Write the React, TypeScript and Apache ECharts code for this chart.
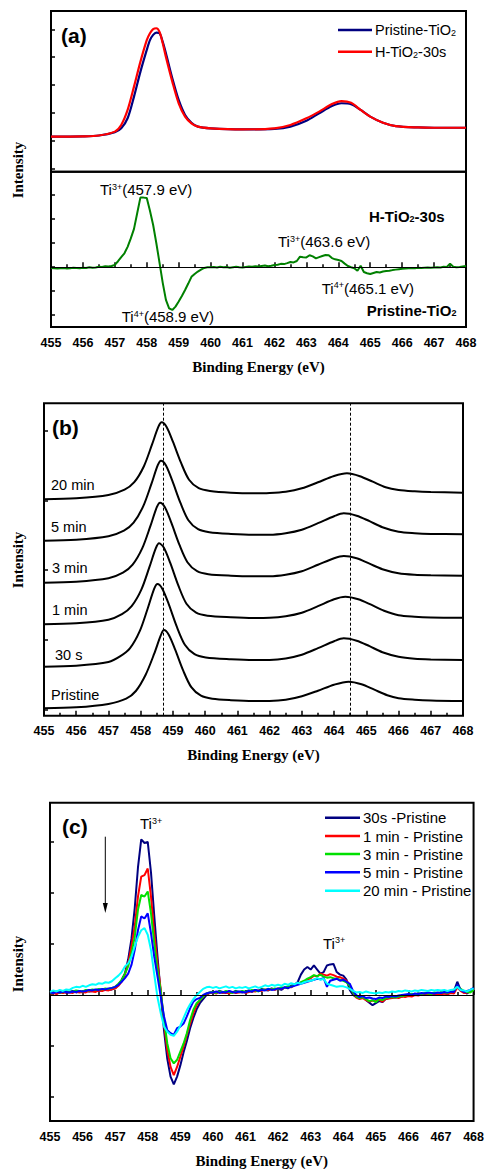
import React, { useEffect, useRef } from "react";
import * as echarts from "echarts";

const SANS = '"Liberation Sans", Arial, Helvetica, sans-serif';
const SERIF = '"Liberation Serif", "Times New Roman", serif';

// ---------- (a) upper: Ti 2p spectra ----------
const aEnergy = [
  455, 456, 456.5, 457.0, 457.2, 457.4, 457.6, 457.8, 458.0, 458.1, 458.2, 458.3, 458.4, 458.5,
  458.6, 458.8, 459.0, 459.2, 459.4, 459.6, 460.0, 461.0, 462.0, 462.5, 463.0, 463.4, 463.8,
  464.1, 464.4, 464.7, 465.0, 465.4, 465.8, 466.5, 467.0, 468.0,
];
const aPristine = [
  1.14, 1.15, 1.18, 1.3, 1.44, 1.8, 2.58, 3.47, 4.26, 4.61, 4.8, 4.88, 4.86, 4.55, 4.14, 3.24,
  2.46, 1.92, 1.64, 1.5, 1.44, 1.4, 1.42, 1.5, 1.71, 1.98, 2.24, 2.34, 2.31, 2.1, 1.86, 1.64,
  1.52, 1.47, 1.46, 1.46,
];
const aH30s = [
  1.14, 1.15, 1.18, 1.32, 1.56, 2.1, 2.94, 3.83, 4.61, 4.86, 5.01, 5.04, 4.91, 4.5, 4.01, 3.12,
  2.34, 1.86, 1.62, 1.5, 1.44, 1.4, 1.44, 1.56, 1.8, 2.04, 2.31, 2.42, 2.36, 2.1, 1.86, 1.64,
  1.52, 1.47, 1.46, 1.46,
];

// ---------- difference spectra share a 0.1 eV grid ----------
const diffEnergy = Array.from({ length: 131 }, (_, i) => Math.round((455 + i * 0.1) * 10) / 10);

// (a) lower: H-TiO2-30s minus Pristine-TiO2
const aDiff = [
  -0.03, -0.04, -0.05, -0.04, -0.03, -0.05, -0.04, -0.02, -0.03, -0.04,
  -0.02, -0.03, 0.0, -0.02, -0.01, 0.02, 0.01, 0.04, 0.03, 0.05,
  0.1, 0.25, 0.42, 0.58, 0.85, 1.2, 1.6, 2.25, 2.9, 2.9,
  2.88, 2.35, 1.76, 1.0, 0.18, -0.65, -1.36, -1.71, -1.78, -1.64,
  -1.43, -1.2, -0.95, -0.68, -0.4, -0.28, -0.18, -0.1, -0.03, 0.0,
  0.0, 0.01, -0.01, 0.02, 0.0, 0.01, -0.02, 0.0, 0.02, 0.0,
  -0.01, 0.01, 0.03, 0.02, 0.04, 0.03, 0.05, 0.07, 0.04, 0.06,
  0.09, 0.1, 0.14, 0.13, 0.17, 0.22, 0.2, 0.26, 0.44, 0.42,
  0.41, 0.5, 0.45, 0.37, 0.42, 0.47, 0.51, 0.5, 0.38, 0.33,
  0.3, 0.26, 0.15, 0.05, 0.0, -0.04, -0.15, 0.06, -0.2, -0.25,
  -0.28, -0.24, -0.2, -0.22, -0.18, -0.16, -0.15, -0.12, -0.1, -0.08,
  -0.06, -0.05, -0.04, -0.03, -0.04, -0.02, -0.03, -0.02, -0.01, -0.02,
  -0.01, 0.0, -0.01, 0.02, 0.01, 0.15, 0.02, 0.0, 0.01, 0.03,
  0.05,
];

// ---------- (b) stacked spectra [eV, offset intensity] ----------
const b20min = [
  [455, 216.4], [456, 217.4], [457, 220.7], [457.5, 226], [457.8, 233.5], [458.1, 249.5],
  [458.35, 271], [458.55, 289], [458.65, 293.4], [458.8, 289], [459.0, 274], [459.25, 253],
  [459.5, 236], [459.8, 227.5], [460.15, 224.7], [460.8, 223], [461.5, 222.4], [462, 222.7],
  [462.5, 224], [463, 227.4], [463.5, 233.4], [464, 239.7], [464.4, 242.4], [464.8, 239.5],
  [465.2, 234], [465.6, 228.4], [466, 225.7], [466.5, 224.4], [467, 223.7], [468, 223],
];
const b5min = [
  [455, 175], [456, 176], [457, 179.5], [457.48, 185], [457.78, 193], [458.08, 209.5],
  [458.33, 231.5], [458.53, 250.5], [458.63, 255], [458.78, 250.5], [458.98, 235], [459.23, 213],
  [459.48, 195.5], [459.78, 186.5], [460.13, 183.5], [460.8, 181.8], [461.5, 181], [462, 181],
  [462.5, 182.5], [463, 186], [463.5, 192.5], [464, 199.5], [464.3, 202.4], [464.7, 200],
  [465.1, 194.5], [465.5, 188.5], [466, 184], [466.5, 182.5], [467, 181.8], [468, 181.4],
];
const b3min = [
  [455, 133], [456, 134], [457, 137.5], [457.45, 143], [457.75, 151], [458.05, 167.5],
  [458.3, 189.5], [458.5, 208.5], [458.6, 213], [458.75, 208.5], [458.95, 193], [459.2, 171],
  [459.45, 153.5], [459.75, 144.5], [460.1, 141.5], [460.8, 140], [461.5, 139.5], [462, 139.5],
  [462.5, 141], [463, 144.5], [463.5, 151], [464, 157.5], [464.3, 159.7], [464.7, 157.5],
  [465.1, 152], [465.5, 146.5], [466, 142.5], [466.5, 141], [467, 140.5], [468, 140],
];
const b1min = [
  [455, 91.4], [456, 92.4], [457, 96], [457.42, 101.5], [457.72, 109.5], [458.02, 126],
  [458.27, 148.5], [458.47, 167.5], [458.57, 172.4], [458.72, 168], [458.92, 152.5], [459.17, 130],
  [459.42, 112], [459.72, 103], [460.07, 100], [460.8, 98.5], [461.5, 97.8], [462, 98],
  [462.5, 99.5], [463, 103], [463.5, 109.5], [464, 116.5], [464.35, 119], [464.75, 116.5],
  [465.15, 111], [465.55, 105], [466, 100.5], [466.5, 99], [467, 98.3], [468, 98],
];
const b30s = [
  [455, 49], [456, 50], [457, 53.7], [457.37, 59.5], [457.67, 67.5], [457.97, 84.5],
  [458.22, 107.5], [458.42, 127], [458.52, 131.7], [458.67, 127], [458.87, 111.5], [459.12, 89],
  [459.37, 71], [459.67, 61.5], [460.02, 58.3], [460.8, 56.5], [461.5, 55.7], [462, 55.8],
  [462.5, 57.3], [463, 61], [463.5, 67.5], [464, 74.5], [464.3, 77.4], [464.7, 75],
  [465.1, 69.5], [465.5, 63.5], [466, 59], [466.5, 57], [467, 56.3], [468, 55.7],
];
const bPristine = [
  [455, 7.4], [456, 8.4], [457, 11.8], [457.55, 17], [457.85, 24.7], [458.15, 40.7],
  [458.42, 62], [458.62, 80], [458.72, 85.7], [458.87, 81], [459.07, 66], [459.32, 45],
  [459.57, 28.5], [459.87, 20], [460.22, 17], [460.8, 15.5], [461.5, 14.7], [462, 14.8],
  [462.5, 16], [463, 19.5], [463.5, 25], [464, 31], [464.45, 34], [464.85, 31.5],
  [465.25, 26], [465.65, 20.5], [466, 17.5], [466.5, 16], [467, 15.2], [468, 14.7],
];
const bLabels = ["20 min", "5 min", "3 min", "1 min", "30 s", "Pristine"];
const bMarkers = [458.7, 464.5];

// ---------- (c) difference spectra vs Pristine ----------
const c30s = [
  0.04, 0.06, 0.03, 0.05, 0.07, 0.04, 0.06, 0.08, 0.05, 0.07,
  0.06, 0.09, 0.07, 0.08, 0.1, 0.08, 0.1, 0.12, 0.1, 0.11,
  0.13, 0.2, 0.3, 0.42, 0.7, 1.1, 1.7, 2.5, 3.05, 2.98,
  3.0, 2.4, 1.55, 0.75, 0.02, -0.7, -1.25, -1.6, -1.75, -1.6,
  -1.38, -1.12, -0.9, -0.65, -0.45, -0.28, -0.16, -0.08, 0.0, 0.04,
  0.06, 0.05, 0.08, 0.06, 0.04, 0.07, 0.05, 0.08, 0.06, 0.05,
  0.07, 0.09, 0.06, 0.1, 0.08, 0.12, 0.1, 0.09, 0.13, 0.11,
  0.12, 0.1, 0.15, 0.13, 0.18, 0.2, 0.25, 0.4, 0.5, 0.55,
  0.5, 0.58, 0.5, 0.42, 0.45, 0.58, 0.6, 0.61, 0.45, 0.4,
  0.38, 0.3, 0.1, 0.0, -0.04, -0.05, -0.03, -0.1, -0.15, -0.2,
  -0.16, -0.12, -0.14, -0.08, -0.06, -0.05, -0.04, -0.02, -0.03, 0.0,
  -0.01, 0.02, 0.0, 0.03, 0.01, 0.02, 0.03, 0.01, 0.04, 0.02,
  0.03, 0.04, 0.02, 0.05, 0.08, 0.26, 0.1, 0.06, 0.03, 0.08,
  0.12,
];
const c1min = [
  0.03, 0.04, 0.02, 0.05, 0.04, 0.06, 0.05, 0.04, 0.07, 0.05,
  0.06, 0.05, 0.08, 0.07, 0.06, 0.09, 0.08, 0.1, 0.09, 0.11,
  0.13, 0.18, 0.26, 0.4, 0.62, 0.95, 1.34, 1.93, 2.32, 2.35,
  2.48, 1.93, 1.21, 0.62, 0.1, -0.56, -1.08, -1.41, -1.57, -1.41,
  -1.21, -1.01, -0.78, -0.56, -0.36, -0.2, -0.1, -0.03, 0.02, 0.04,
  0.05, 0.03, 0.06, 0.04, 0.05, 0.03, 0.06, 0.04, 0.05, 0.07,
  0.04, 0.06, 0.08, 0.07, 0.09, 0.08, 0.11, 0.1, 0.12, 0.1,
  0.13, 0.12, 0.14, 0.16, 0.15, 0.19, 0.22, 0.24, 0.26, 0.3,
  0.33, 0.38, 0.36, 0.42, 0.4, 0.38, 0.41, 0.39, 0.36, 0.35,
  0.32, 0.28, 0.2, 0.05, -0.05, -0.08, -0.06, -0.1, -0.13, -0.11,
  -0.12, -0.09, -0.13, -0.08, -0.07, -0.06, -0.05, -0.06, -0.03, -0.04,
  -0.02, -0.03, 0.0, -0.01, 0.01, 0.0, 0.02, 0.01, 0.0, 0.02,
  0.01, 0.03, 0.02, 0.04, 0.03, 0.15, 0.08, 0.04, 0.05, 0.07,
  0.1,
];
const c3min = [
  0.04, 0.05, 0.07, 0.05, 0.06, 0.08, 0.06, 0.07, 0.09, 0.08,
  0.07, 0.1, 0.09, 0.11, 0.1, 0.12, 0.11, 0.13, 0.12, 0.14,
  0.16, 0.22, 0.29, 0.42, 0.56, 0.82, 1.14, 1.67, 1.96, 1.93,
  2.03, 1.6, 1.01, 0.49, 0.07, -0.49, -0.95, -1.24, -1.34, -1.27,
  -1.11, -0.95, -0.75, -0.49, -0.29, -0.16, -0.1, -0.03, 0.03, 0.05,
  0.06, 0.04, 0.07, 0.05, 0.08, 0.06, 0.04, 0.07, 0.06, 0.08,
  0.06, 0.08, 0.1, 0.09, 0.07, 0.11, 0.1, 0.12, 0.11, 0.13,
  0.12, 0.15, 0.14, 0.17, 0.16, 0.2, 0.22, 0.25, 0.28, 0.32,
  0.35, 0.39, 0.37, 0.4, 0.36, 0.34, 0.35, 0.33, 0.32, 0.3,
  0.28, 0.25, 0.18, 0.05, -0.03, -0.06, -0.04, -0.08, -0.12, -0.1,
  -0.14, -0.08, -0.1, -0.06, -0.05, -0.04, -0.05, -0.03, -0.02, -0.01,
  0.0, 0.02, 0.01, 0.03, 0.02, 0.04, 0.03, 0.02, 0.05, 0.04,
  0.05, 0.06, 0.04, 0.07, 0.08, 0.18, 0.12, 0.08, 0.06, 0.05,
  0.1,
];
const c5min = [
  0.05, 0.04, 0.06, 0.05, 0.07, 0.06, 0.05, 0.07, 0.06, 0.08,
  0.07, 0.08, 0.1, 0.09, 0.11, 0.1, 0.12, 0.11, 0.13, 0.14,
  0.16, 0.2, 0.26, 0.33, 0.42, 0.59, 0.88, 1.27, 1.54, 1.5,
  1.6, 1.21, 0.75, 0.36, -0.03, -0.42, -0.69, -0.75, -0.78, -0.65,
  -0.62, -0.56, -0.42, -0.26, -0.13, -0.08, -0.06, 0.0, 0.03, 0.05,
  0.05, 0.07, 0.04, 0.06, 0.05, 0.08, 0.06, 0.05, 0.07, 0.06,
  0.05, 0.08, 0.07, 0.1, 0.08, 0.1, 0.09, 0.12, 0.1, 0.11,
  0.13, 0.12, 0.15, 0.14, 0.16, 0.18, 0.2, 0.22, 0.24, 0.26,
  0.28, 0.3, 0.32, 0.31, 0.33, 0.16, 0.28, 0.3, 0.32, 0.28,
  0.3, 0.26, 0.22, 0.08, 0.0, -0.04, -0.02, -0.06, -0.05, -0.07,
  -0.08, -0.05, -0.06, -0.03, -0.04, -0.02, -0.03, -0.01, 0.0, 0.01,
  0.02, 0.0, 0.03, 0.02, 0.04, 0.03, 0.05, 0.04, 0.03, 0.05,
  0.04, 0.06, 0.05, 0.07, 0.06, 0.2, 0.1, 0.06, 0.08, 0.1,
  0.14,
];
const c20min = [
  0.06, 0.09, 0.07, 0.1, 0.08, 0.11, 0.1, 0.14, 0.16, 0.15,
  0.18, 0.16, 0.19, 0.21, 0.2, 0.23, 0.22, 0.25, 0.24, 0.27,
  0.33, 0.38, 0.45, 0.56, 0.62, 0.75, 0.95, 1.14, 1.27, 1.31,
  1.18, 0.88, 0.4, -0.05, -0.36, -0.62, -0.72, -0.78, -0.8, -0.72,
  -0.6, -0.45, -0.3, -0.18, -0.08, 0.0, 0.06, 0.12, 0.15, 0.16,
  0.14, 0.16, 0.13, 0.15, 0.17, 0.14, 0.16, 0.13, 0.15, 0.14,
  0.16, 0.13, 0.15, 0.17, 0.14, 0.16, 0.19, 0.17, 0.2, 0.18,
  0.2, 0.18, 0.22, 0.2, 0.23, 0.21, 0.24, 0.22, 0.25, 0.27,
  0.28, 0.3, 0.33, 0.3, 0.32, 0.22, 0.2, 0.18, 0.16, 0.17,
  0.17, 0.15, 0.12, 0.08, 0.05, 0.06, 0.04, 0.07, 0.05, 0.04,
  0.03, 0.05, 0.04, 0.06, 0.05, 0.07, 0.06, 0.08, 0.07, 0.09,
  0.08, 0.07, 0.09, 0.08, 0.1, 0.09, 0.08, 0.1, 0.09, 0.1,
  0.09, 0.1, 0.08, 0.1, 0.11, 0.16, 0.1, 0.09, 0.07, 0.1,
  0.13,
];
const cSeriesNames = ["30s -Pristine", "1 min - Pristine", "3 min - Pristine", "5 min - Pristine", "20 min - Pristine"];
const cColors = ["#000080", "#ff0000", "#00e000", "#0000ff", "#00ffff"];

const pairs = (xs: number[], ys: number[]) => xs.map((x, i) => [x, ys[i]]);

const tickFont = { color: "#000", fontFamily: SANS, fontWeight: "bold" as const, fontSize: 12.5 };
const titleFont = { color: "#000", fontFamily: SERIF, fontWeight: "bold" as const, fontSize: 15 };

function energyAxis(gridIndex: number, withLabels: boolean) {
  return {
    type: "value",
    gridIndex,
    min: 455,
    max: 468,
    interval: 1,
    axisLine: { show: false },
    axisTick: { show: withLabels, inside: true, length: 5, lineStyle: { color: "#000", width: 1.5 } },
    minorTick: { show: withLabels, splitNumber: 2, length: 3, lineStyle: { color: "#000", width: 1.5 } },
    axisLabel: { show: withLabels, margin: 9, ...tickFont },
    splitLine: { show: false },
    minorSplitLine: { show: false },
    name: withLabels ? "Binding Energy (eV)" : "",
    nameLocation: "middle",
    nameGap: 32,
    nameTextStyle: titleFont,
  };
}

function intensityAxis(gridIndex: number, min: number, max: number, ticks: number[]) {
  return {
    type: "value",
    gridIndex,
    min,
    max,
    axisLine: { show: false },
    axisTick: { show: true, inside: true, length: 4, customValues: ticks, lineStyle: { color: "#000", width: 1.5 } },
    axisLabel: { show: false },
    splitLine: { show: false },
  };
}

const zeroLine = {
  silent: true,
  symbol: ["none", "none"],
  label: { show: false },
  lineStyle: { color: "#000", width: 1, type: "solid" },
  data: [{ yAxis: 0 }],
};

function richText(size: number, weight = "normal") {
  const sub = Math.round(size * 0.62);
  return {
    n: { fontSize: size, fontFamily: SANS, fontWeight: weight, fill: "#000" },
    p: { fontSize: sub, fontFamily: SANS, fontWeight: weight, fill: "#000", verticalAlign: "top" },
    s: { fontSize: sub, fontFamily: SANS, fontWeight: weight, fill: "#000", verticalAlign: "bottom" },
  };
}

function label(text: string, x: number, y: number, size: number, weight = "normal", align = "left") {
  return {
    type: "text",
    x,
    y,
    silent: true,
    style: {
      text,
      rich: richText(size, weight),
      font: `${weight} ${size}px ${SANS}`,
      fill: "#000",
      align,
      textAlign: align,
      verticalAlign: "middle",
      textVerticalAlign: "middle",
    },
  };
}

function plainText(text: string, x: number, y: number, font: string, align = "left", rotation = 0) {
  return {
    type: "text",
    x,
    y,
    rotation,
    silent: true,
    style: {
      text,
      font,
      fill: "#000",
      align,
      textAlign: align,
      verticalAlign: "middle",
      textVerticalAlign: "middle",
    },
  };
}

function legendRow(x1: number, x2: number, y: number, color: string, text: string, size: number) {
  return [
    { type: "line", silent: true, shape: { x1, y1: y, x2, y2: y }, style: { stroke: color, lineWidth: 2.5 } },
    label(text, x2 + 3, y, size),
  ];
}

export default function App() {
  const ref = useRef<HTMLDivElement>(null);

  useEffect(() => {
    if (!ref.current) return;
    const chart = echarts.init(ref.current, null, { renderer: "svg" });

    const bCurves = [b20min, b5min, b3min, b1min, b30s, bPristine];
    const cCurves = [c30s, c1min, c3min, c5min, c20min];
    const bLabelPos = [
      [51, 485], [51, 527], [52, 568], [52, 610], [55, 655], [51, 695],
    ];
    const cLegendY = [817.7, 836, 854, 872.3, 890.7];

    const series: any[] = [
      {
        name: "Pristine-TiO2", type: "line", xAxisIndex: 0, yAxisIndex: 0,
        data: pairs(aEnergy, aPristine), showSymbol: false, smooth: 0.3,
        lineStyle: { color: "#000080", width: 2.2 }, itemStyle: { color: "#000080" },
      },
      {
        name: "H-TiO2-30s", type: "line", xAxisIndex: 0, yAxisIndex: 0,
        data: pairs(aEnergy, aH30s), showSymbol: false, smooth: 0.3,
        lineStyle: { color: "#ff0000", width: 2.2 }, itemStyle: { color: "#ff0000" },
      },
      {
        name: "H-TiO2-30s − Pristine-TiO2", type: "line", xAxisIndex: 1, yAxisIndex: 1,
        data: pairs(diffEnergy, aDiff), showSymbol: false,
        lineStyle: { color: "#008000", width: 2 }, itemStyle: { color: "#008000" },
        markLine: zeroLine, z: 3,
      },
      ...bCurves.map((d, i) => ({
        name: bLabels[i], type: "line", xAxisIndex: 2, yAxisIndex: 2,
        data: d, showSymbol: false, smooth: 0.3,
        lineStyle: { color: "#000", width: 2 }, itemStyle: { color: "#000" },
        markLine: i === 0 ? {
          silent: true, symbol: ["none", "none"], label: { show: false },
          lineStyle: { color: "#000", width: 1, type: [3, 2] },
          data: bMarkers.map((v) => ({ xAxis: v })),
        } : undefined,
      })),
      ...cCurves.map((d, i) => ({
        name: cSeriesNames[i], type: "line", xAxisIndex: 3, yAxisIndex: 3,
        data: pairs(diffEnergy, d), showSymbol: false,
        lineStyle: { color: cColors[i], width: 2 }, itemStyle: { color: cColors[i] },
        markLine: i === 0 ? zeroLine : undefined,
      })),
    ];

    const graphics: any[] = [
      // panel tags
      plainText("(a)", 61, 35, `bold 21px ${SANS}`),
      plainText("(b)", 52, 427, `bold 21px ${SANS}`),
      plainText("(c)", 62, 826, `bold 21px ${SANS}`),
      // y-axis titles
      plainText("Intensity", 18, 170, `bold 15px ${SERIF}`, "center", Math.PI / 2),
      plainText("Intensity", 18, 560, `bold 15px ${SERIF}`, "center", Math.PI / 2),
      plainText("Intensity", 18, 964, `bold 15px ${SERIF}`, "center", Math.PI / 2),
      // (a) legend
      ...legendRow(338, 372, 30, "#000080", "{n|Pristine-TiO}{s|2}", 14.5),
      ...legendRow(338, 372, 51.7, "#ff0000", "{n|H-TiO}{s|2}{n|-30s}", 14.5),
      // (a) annotations
      label("{n|Ti}{p|3+}{n|(457.9 eV)}", 100, 189.5, 15),
      label("{n|H-TiO}{s|2}{n|-30s}", 369, 216, 15, "bold"),
      label("{n|Ti}{p|3+}{n|(463.6 eV)}", 278, 241.7, 15),
      label("{n|Ti}{p|4+}{n|(465.1 eV)}", 321.7, 288.3, 15),
      label("{n|Pristine-TiO}{s|2}", 366.7, 310, 15, "bold"),
      label("{n|Ti}{p|4+}{n|(458.9 eV)}", 121.7, 316.7, 15),
      // (b) sample labels
      ...bLabels.map((t, i) => plainText(t, bLabelPos[i][0], bLabelPos[i][1], `14.5px ${SANS}`)),
      // (c) annotations
      label("{n|Ti}{p|3+}", 140, 823.5, 15),
      label("{n|Ti}{p|3+}", 323, 943.3, 15),
      { type: "line", silent: true, shape: { x1: 105.3, y1: 836.7, x2: 105.3, y2: 905 }, style: { stroke: "#000", lineWidth: 1 } },
      { type: "polygon", silent: true, shape: { points: [[102.8, 903], [107.8, 903], [105.3, 913]] }, style: { fill: "#000" } },
      // (c) legend
      ...cSeriesNames.flatMap((t, i) => legendRow(325, 360, cLegendY[i], cColors[i], `{n|${t}}`, 15)),
    ];

    const gridStyle = { show: true, borderColor: "#000", borderWidth: 2, backgroundColor: "transparent", containLabel: false };

    chart.setOption({
      animation: false,
      backgroundColor: "#fff",
      grid: [
        { ...gridStyle, left: 51, top: 11, width: 415, height: 160.7 },
        { ...gridStyle, left: 51, top: 171.7, width: 415, height: 155.3 },
        { ...gridStyle, left: 44, top: 403.3, width: 419, height: 312.4 },
        { ...gridStyle, left: 50, top: 802.7, width: 429.3, height: 318.3 },
      ],
      xAxis: [energyAxis(0, false), energyAxis(1, true), energyAxis(2, true), energyAxis(3, true)],
      yAxis: [
        intensityAxis(0, -0.122, 5.66, [0, 1, 2, 3, 4, 5]),
        intensityAxis(1, -2.49, 3.98, [-2, -1, 0, 1, 2, 3]),
        intensityAxis(2, 0, 312.4, [6, 76, 145.5, 215, 284.5]),
        intensityAxis(3, -2.47, 3.77, [-2, -1, 0, 1, 2, 3]),
      ],
      series,
      graphic: { elements: graphics },
    });

    return () => chart.dispose();
  }, []);

  return (
    <div
      ref={ref}
      style={{ position: "absolute", left: 0, top: 0, width: 487, height: 1169, background: "#fff" }}
    />
  );
}
